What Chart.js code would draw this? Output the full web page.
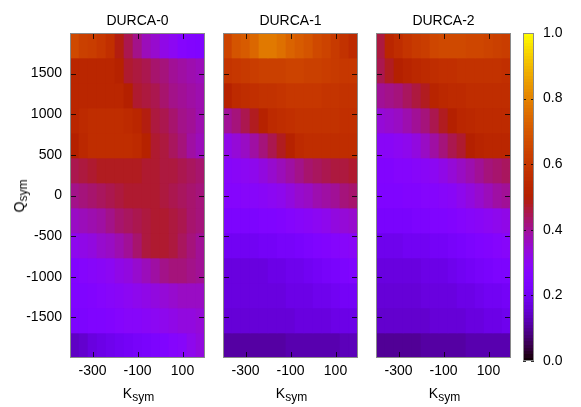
<!DOCTYPE html>
<html><head><meta charset="utf-8">
<script src="https://cdn.jsdelivr.net/npm/chart.js@4"></script>
<style>
html,body{margin:0;padding:0;background:#fff;}
#wrap{position:relative;width:581px;height:407px;overflow:hidden;font-family:"Liberation Sans",Arial,sans-serif;color:#000;}
canvas{position:absolute;top:0;}
.t{position:absolute;font-size:14px;line-height:16px;white-space:nowrap;transform:translateX(-50%);}
.t sub{font-size:12px;vertical-align:-3px;line-height:0;}
.r{position:absolute;font-size:14px;line-height:16px;white-space:nowrap;transform:translate(-50%,-50%) rotate(-90deg);}
.r sub{font-size:12px;vertical-align:-3px;line-height:0;}
</style></head>
<body><div id="wrap">
<canvas id="c0" width="215" height="407" style="left:0px"></canvas>
<canvas id="c1" width="150" height="407" style="left:215px"></canvas>
<canvas id="c2" width="150" height="407" style="left:368px"></canvas>
<canvas id="cb" width="63" height="407" style="left:518px"></canvas>
</div>
<script>
// ---- data ----
const kVals = [-380,-340,-300,-260,-220,-180,-140,-100,-60,-20,20,60,100,140,180];
const qVals = [1846,1538,1231,923,615,308,0,-308,-615,-923,-1231,-1538,-1846];
const kTicks = [-300,-100,100];
const qTicks = [1500,1000,500,0,-500,-1000,-1500];
const cbTicks = [0,0.2,0.4,0.6,0.8,1.0];
const titles = ['DURCA-0','DURCA-1','DURCA-2'];

// rows from top (Q=1846) to bottom (Q=-1846), columns K=-380..180
const durca0 = [
 [0.66,0.63,0.62,0.60,0.57,0.49,0.45,0.41,0.37,0.35,0.32,0.30,0.27,0.26,0.25],
 [0.53,0.53,0.53,0.53,0.53,0.51,0.47,0.46,0.45,0.43,0.42,0.40,0.39,0.38,0.37],
 [0.53,0.53,0.53,0.53,0.53,0.53,0.50,0.47,0.46,0.45,0.43,0.41,0.40,0.39,0.38],
 [0.53,0.55,0.56,0.56,0.56,0.56,0.55,0.53,0.49,0.46,0.45,0.43,0.41,0.40,0.38],
 [0.50,0.54,0.56,0.56,0.56,0.56,0.56,0.55,0.51,0.47,0.46,0.44,0.42,0.39,0.37],
 [0.45,0.46,0.47,0.48,0.48,0.48,0.48,0.48,0.47,0.47,0.46,0.46,0.45,0.44,0.43],
 [0.41,0.42,0.43,0.44,0.45,0.46,0.47,0.47,0.47,0.47,0.46,0.45,0.44,0.43,0.42],
 [0.36,0.37,0.38,0.39,0.41,0.43,0.44,0.45,0.46,0.47,0.47,0.46,0.45,0.43,0.42],
 [0.31,0.32,0.33,0.35,0.36,0.38,0.40,0.43,0.46,0.47,0.47,0.46,0.44,0.42,0.40],
 [0.26,0.27,0.28,0.29,0.30,0.32,0.33,0.35,0.37,0.39,0.41,0.42,0.42,0.41,0.40],
 [0.25,0.25,0.26,0.27,0.28,0.29,0.30,0.31,0.32,0.33,0.34,0.35,0.36,0.36,0.36],
 [0.24,0.24,0.25,0.25,0.26,0.27,0.28,0.28,0.29,0.30,0.31,0.32,0.33,0.33,0.34],
 [0.14,0.15,0.17,0.18,0.19,0.20,0.21,0.22,0.23,0.24,0.25,0.27,0.28,0.31,0.33]
];
const durca1 = [
 [0.64,0.69,0.71,0.74,0.78,0.78,0.76,0.73,0.71,0.69,0.66,0.64,0.61,0.58,0.55],
 [0.59,0.60,0.61,0.62,0.63,0.63,0.63,0.64,0.64,0.63,0.63,0.62,0.61,0.60,0.60],
 [0.51,0.55,0.56,0.57,0.58,0.58,0.59,0.60,0.60,0.60,0.60,0.59,0.59,0.58,0.58],
 [0.40,0.42,0.45,0.48,0.51,0.55,0.56,0.57,0.58,0.58,0.58,0.58,0.58,0.57,0.57],
 [0.32,0.34,0.36,0.39,0.42,0.45,0.48,0.51,0.55,0.56,0.56,0.56,0.56,0.56,0.56],
 [0.28,0.29,0.30,0.31,0.33,0.35,0.37,0.39,0.41,0.43,0.44,0.45,0.46,0.46,0.47],
 [0.27,0.27,0.28,0.28,0.29,0.30,0.31,0.33,0.35,0.36,0.38,0.39,0.40,0.42,0.43],
 [0.24,0.24,0.24,0.24,0.25,0.25,0.26,0.27,0.28,0.29,0.30,0.31,0.33,0.34,0.35],
 [0.20,0.20,0.20,0.20,0.21,0.21,0.22,0.22,0.23,0.24,0.25,0.26,0.27,0.28,0.29],
 [0.17,0.17,0.17,0.17,0.17,0.18,0.18,0.19,0.19,0.20,0.21,0.22,0.23,0.24,0.25],
 [0.17,0.17,0.17,0.17,0.17,0.17,0.17,0.18,0.18,0.18,0.19,0.19,0.20,0.21,0.21],
 [0.16,0.16,0.16,0.16,0.16,0.16,0.16,0.16,0.17,0.17,0.17,0.17,0.18,0.18,0.18],
 [0.11,0.11,0.11,0.11,0.11,0.11,0.11,0.12,0.12,0.12,0.12,0.12,0.12,0.13,0.13]
];
const durca2 = [
 [0.46,0.53,0.56,0.59,0.61,0.62,0.65,0.66,0.66,0.66,0.65,0.65,0.64,0.63,0.62],
 [0.45,0.48,0.50,0.52,0.54,0.55,0.56,0.57,0.57,0.58,0.58,0.58,0.58,0.58,0.57],
 [0.40,0.41,0.42,0.44,0.46,0.48,0.52,0.54,0.55,0.55,0.56,0.56,0.56,0.56,0.56],
 [0.34,0.35,0.36,0.38,0.40,0.42,0.45,0.48,0.50,0.53,0.54,0.55,0.55,0.55,0.55],
 [0.29,0.29,0.30,0.31,0.33,0.36,0.39,0.42,0.45,0.47,0.50,0.52,0.53,0.53,0.53],
 [0.26,0.26,0.27,0.27,0.28,0.29,0.30,0.32,0.34,0.36,0.38,0.40,0.42,0.43,0.44],
 [0.25,0.25,0.25,0.26,0.26,0.27,0.27,0.28,0.29,0.31,0.33,0.35,0.37,0.39,0.40],
 [0.23,0.23,0.23,0.23,0.24,0.24,0.25,0.25,0.26,0.27,0.28,0.29,0.30,0.31,0.32],
 [0.19,0.19,0.19,0.20,0.20,0.20,0.21,0.21,0.22,0.23,0.24,0.25,0.26,0.27,0.28],
 [0.17,0.17,0.17,0.17,0.17,0.18,0.18,0.18,0.19,0.20,0.21,0.22,0.23,0.24,0.24],
 [0.16,0.16,0.16,0.16,0.16,0.17,0.17,0.17,0.17,0.18,0.18,0.19,0.20,0.20,0.21],
 [0.15,0.15,0.15,0.15,0.15,0.15,0.16,0.16,0.16,0.16,0.17,0.17,0.18,0.18,0.19],
 [0.10,0.10,0.10,0.10,0.10,0.11,0.11,0.11,0.11,0.11,0.12,0.12,0.12,0.12,0.12]
];

// ---- gnuplot default palette (rgbformulae 7,5,15) ----
function pal(v){
  v = Math.max(0, Math.min(1, v));
  const r = Math.sqrt(v), g = v*v*v, b = Math.max(0, Math.sin(2*Math.PI*v));
  return 'rgb(' + Math.round(r*255) + ',' + Math.round(g*255) + ',' + Math.round(b*255) + ')';
}

function rowEdges(i){
  const q = qVals[i];
  const up = i > 0 ? (qVals[i-1] + q)/2 : q + (q - qVals[i+1])/2;
  const dn = i < qVals.length-1 ? (qVals[i+1] + q)/2 : q - (qVals[i-1] - q)/2;
  return [dn, up];
}
function makeDatasets(grid){
  return grid.map((row, i) => {
    const e = rowEdges(i);
    return {
      data: kVals.map(k => ({x: k, y: [e[0], e[1]]})),
      backgroundColor: row.map(pal),
      borderWidth: 0, grouped: false, barPercentage: 1, categoryPercentage: 1
    };
  });
}

const frame = {
  id: 'frame',
  afterDatasetsDraw(chart, args, o){
    const ctx = chart.ctx, a = chart.chartArea, sx = chart.scales.x, sy = chart.scales.y;
    ctx.save();
    ctx.strokeStyle = 'rgba(0,0,0,0.8)';
    ctx.lineWidth = 1;
    ctx.beginPath();
    (o.xTicks || []).forEach(v => {
      const p = Math.round(sx.getPixelForValue(v)) + 0.5;
      ctx.moveTo(p, a.top); ctx.lineTo(p, a.top + o.len);
      ctx.moveTo(p, a.bottom); ctx.lineTo(p, a.bottom - o.len);
    });
    (o.yTicks || []).forEach(v => {
      const p = Math.round(sy.getPixelForValue(v)) + 0.5;
      ctx.moveTo(a.left, p); ctx.lineTo(a.left + o.len, p);
      ctx.moveTo(a.right, p); ctx.lineTo(a.right - o.len, p);
    });
    ctx.stroke();
    ctx.strokeStyle = '#8a8a8a';
    ctx.strokeRect(a.left + 0.5, a.top + 0.5, a.right - a.left - 1, a.bottom - a.top - 1);
    ctx.restore();
  }
};

const font = {family: '"Liberation Sans", Arial, sans-serif', size: 14};

function panelConfig(grid, pad, showY){
  const y = {
    type: 'linear', min: -2000, max: 2000, display: showY,
    afterBuildTicks: s => { s.ticks = qTicks.map(v => ({value: v})); },
    grid: {display: false, drawTicks: false, tickLength: 0}, border: {display: false},
    ticks: {font: font, color: '#000', padding: 8, autoSkip: false, callback: v => String(v)}
  };
  if (showY) y.afterFit = s => { s.width = 70; };
  return {
    type: 'bar',
    data: {datasets: makeDatasets(grid)},
    options: {
      responsive: false, animation: false, events: [], devicePixelRatio: 1,
      layout: {padding: pad},
      plugins: {legend: {display: false}, tooltip: {enabled: false},
                frame: {xTicks: kTicks, yTicks: qTicks, len: 6}},
      scales: {
        x: {
          type: 'linear', min: -400, max: 200, offset: false,
          afterBuildTicks: s => { s.ticks = kTicks.map(v => ({value: v})); },
          grid: {display: false, drawTicks: false, tickLength: 0}, border: {display: false},
          ticks: {font: font, color: '#000', padding: 5, maxRotation: 0, autoSkip: false, callback: v => String(v)},
          afterFit: s => { s.height = 30; }
        },
        y: y
      }
    },
    plugins: [frame]
  };
}

const charts = [];
charts.push(new Chart(document.getElementById('c0'), panelConfig(durca0, {left:0, right:10, top:33, bottom:19}, true)));
charts.push(new Chart(document.getElementById('c1'), panelConfig(durca1, {left:8, right:7, top:33, bottom:19}, false)));
charts.push(new Chart(document.getElementById('c2'), panelConfig(durca2, {left:8, right:7, top:33, bottom:19}, false)));

// colour bar
const NB = 100;
const cb = new Chart(document.getElementById('cb'), {
  type: 'bar',
  data: {datasets: [{
    data: [{x: 0.5, y: [0, 1]}],
    backgroundColor: (c) => {
      const ch = c.chart, sy = ch.scales.y;
      if (!ch.chartArea || !sy) return pal(0.5);
      const y0 = sy.getPixelForValue(0), y1 = sy.getPixelForValue(1);
      const g = ch.ctx.createLinearGradient(0, y0, 0, y1);
      for (let i = 0; i < NB; i++) {
        const col = pal((i + 0.5)/NB);
        g.addColorStop(i/NB, col);
        g.addColorStop(Math.min(1, (i + 1)/NB - 1e-4), col);
      }
      return g;
    },
    borderWidth: 0, barPercentage: 1, categoryPercentage: 1
  }]},
  options: {
    responsive: false, animation: false, events: [], devicePixelRatio: 1,
    layout: {padding: {left: 5, right: 0, top: 33, bottom: 46}},
    plugins: {legend: {display: false}, tooltip: {enabled: false},
              frame: {yTicks: cbTicks, len: 3}},
    scales: {
      x: {type: 'linear', min: 0, max: 1, offset: false, display: false,
          afterBuildTicks: s => { s.ticks = [{value: 0}, {value: 1}]; }},
      y: {type: 'linear', position: 'right', min: 0, max: 1,
          afterBuildTicks: s => { s.ticks = cbTicks.map(v => ({value: v})); },
          grid: {display: false, drawTicks: false, tickLength: 0}, border: {display: false},
          ticks: {font: font, color: '#000', padding: 9, autoSkip: false, callback: v => Number(v).toFixed(1)},
          afterFit: s => { s.width = 47; }}
    }
  },
  plugins: [frame]
});

// HTML text: titles, axis labels with subscripts
const wrap = document.getElementById('wrap');
const offsets = [0, 215, 368];
charts.forEach((ch, i) => {
  const a = ch.chartArea;
  const cx = offsets[i] + (a.left + a.right)/2;
  const t = document.createElement('div');
  t.className = 't'; t.textContent = titles[i];
  t.style.left = cx + 'px'; t.style.top = '12px';
  wrap.appendChild(t);
  const k = document.createElement('div');
  k.className = 't'; k.innerHTML = 'K<sub>sym</sub>';
  k.style.left = (cx + 1) + 'px'; k.style.top = '385px';
  wrap.appendChild(k);
});
const a0 = charts[0].chartArea;
const q = document.createElement('div');
q.className = 'r'; q.innerHTML = 'Q<sub>sym</sub>';
q.style.left = '19px'; q.style.top = ((a0.top + a0.bottom)/2) + 'px';
wrap.appendChild(q);
</script>
</body></html>
